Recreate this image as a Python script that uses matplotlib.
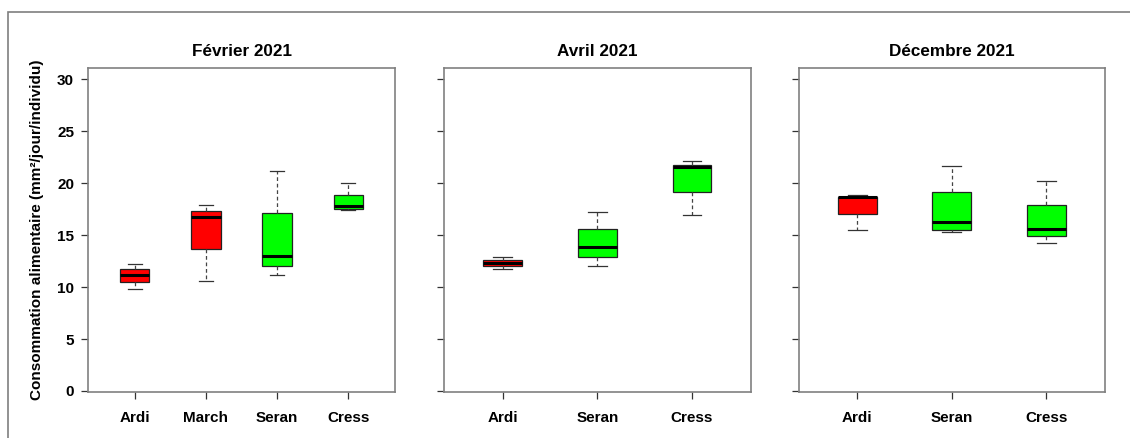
import matplotlib
matplotlib.use("Agg")
import matplotlib.pyplot as plt
from matplotlib.patches import Rectangle

plt.rcParams['font.family'] = ['Liberation Sans', 'DejaVu Sans']
plt.rcParams['font.weight'] = 'bold'

# ---- data ----
titles = ["Février 2021", "Avril 2021", "Décembre 2021"]

feb_labels = ["Ardi", "March", "Seran", "Cress"]
feb_whislo = [9.8, 10.6, 11.2, 17.4]
feb_q1     = [10.5, 13.7, 12.05, 17.5]
feb_med    = [11.15, 16.8, 12.95, 17.85]
feb_q3     = [11.75, 17.35, 17.1, 18.85]
feb_whishi = [12.2, 17.9, 21.2, 20.0]
feb_colors = ["#FF0000", "#FF0000", "#00FF00", "#00FF00"]

apr_labels = ["Ardi", "Seran", "Cress"]
apr_whislo = [11.7, 12.05, 16.95]
apr_q1     = [12.05, 12.9, 19.15]
apr_med    = [12.35, 13.9, 21.55]
apr_q3     = [12.65, 15.55, 21.8]
apr_whishi = [12.9, 17.2, 22.1]
apr_colors = ["#FF0000", "#00FF00", "#00FF00"]

dec_labels = ["Ardi", "Seran", "Cress"]
dec_whislo = [15.5, 15.3, 14.25]
dec_q1     = [17.0, 15.5, 14.9]
dec_med    = [18.65, 16.25, 15.55]
dec_q3     = [18.7, 19.15, 17.9]
dec_whishi = [18.85, 21.65, 20.2]
dec_colors = ["#FF0000", "#00FF00", "#00FF00"]

yticks = [0, 5, 10, 15, 20, 25, 30]
ylabel = "Consommation alimentaire (mm²/jour/individu)"

panels = [
    (feb_labels, feb_whislo, feb_q1, feb_med, feb_q3, feb_whishi, feb_colors),
    (apr_labels, apr_whislo, apr_q1, apr_med, apr_q3, apr_whishi, apr_colors),
    (dec_labels, dec_whislo, dec_q1, dec_med, dec_q3, dec_whishi, dec_colors),
]

W, H = 1130, 438
fig = plt.figure(figsize=(W / 100, H / 100), dpi=100)

# outer frame
fig.patches.append(Rectangle((8 / W, -0.2), 1.2, 1 - 11.5 / H + 0.2,
                             transform=fig.transFigure, fill=False,
                             edgecolor="#7f7f7f", linewidth=1.2, zorder=0))

lefts = [88, 444, 798.7]
rights = [395, 750.7, 1104.7]
top_px, bot_px = 68, 392

spine_col = "#808080"
for i, (labels, wlo, q1, med, q3, whi, cols) in enumerate(panels):
    ax = fig.add_axes([lefts[i] / W, 1 - bot_px / H,
                       (rights[i] - lefts[i]) / W, (bot_px - top_px) / H])
    n = len(labels)
    stats = []
    for k in range(n):
        stats.append(dict(label=labels[k], whislo=wlo[k], q1=q1[k], med=med[k],
                          q3=q3[k], whishi=whi[k], fliers=[]))
    pos = list(range(1, n + 1))
    bp = ax.bxp(stats, positions=pos, widths=0.41, patch_artist=True,
                showfliers=False,
                boxprops=dict(edgecolor="#222222", linewidth=0.9),
                medianprops=dict(color="black", linewidth=2.2, solid_capstyle="butt"),
                whiskerprops=dict(color="#444444", linewidth=0.9, linestyle=(0, (3, 2.2))),
                capprops=dict(color="#333333", linewidth=0.9),
                capwidths=0.2)
    for patch, c in zip(bp['boxes'], cols):
        patch.set_facecolor(c)
    ax.set_xlim(0.5 - 0.04 * n, n + 0.5 + 0.04 * n)
    ax.set_ylim(-0.1, 31.1)
    ax.set_yticks(yticks)
    ax.set_xticks(pos)
    ax.set_xticklabels(labels, fontsize=11, fontweight="bold")
    if i == 0:
        ax.set_yticklabels([str(t) for t in yticks], fontsize=11, fontweight="bold")
        ax.set_ylabel(ylabel, fontsize=11, fontweight="bold", labelpad=10)
    else:
        ax.set_yticklabels([])
    ax.tick_params(axis="y", length=5, width=0.9, color="#333333", pad=5)
    ax.tick_params(axis="x", length=5, width=0.9, color="#333333", pad=9)
    for s in ax.spines.values():
        s.set_color(spine_col)
        s.set_linewidth(1.2)
    ax.set_title(titles[i], fontsize=12.3, fontweight="bold", pad=9)

ax0 = fig.axes[0]
ax0.yaxis.set_label_coords(-0.143, 0.5)

fig.savefig("out.png", dpi=100)
